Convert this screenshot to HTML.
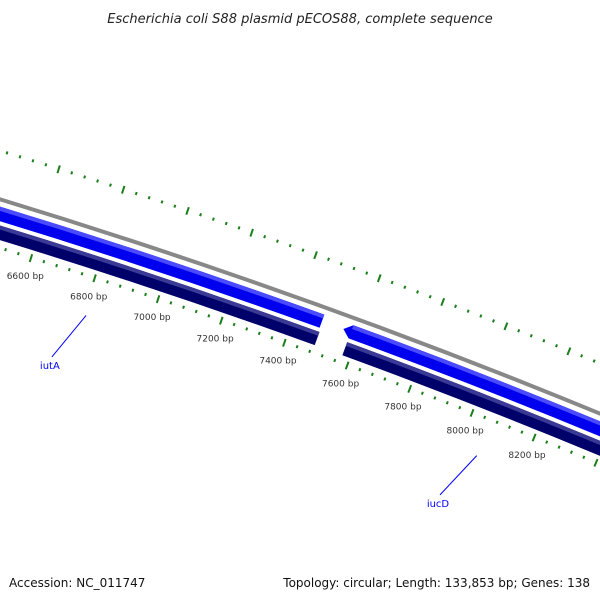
<!DOCTYPE html>
<html><head><meta charset="utf-8"><style>
html,body{margin:0;padding:0;background:#fff;}
svg{display:block;font-family:"DejaVu Sans","Liberation Sans",sans-serif;}
</style></head><body>
<svg id="map" width="600" height="600" viewBox="0 0 600 600" xmlns="http://www.w3.org/2000/svg">
<rect width="600" height="600" fill="#fff"/>
<text x="300" y="23" text-anchor="middle" font-size="13" font-style="italic" fill="#222">Escherichia coli S88 plasmid pECOS88, complete sequence</text>
<g id="ticks"></g>
<g id="rings"></g>
<g id="genes"></g>
<g id="labels"></g>
<text x="9" y="587" font-size="12" fill="#111">Accession: NC_011747</text>
<text x="590" y="587" text-anchor="end" font-size="12" fill="#111">Topology: circular; Length: 133,853 bp; Genes: 138</text>
</svg>
<script>
const tickLabelsBp = [6600, 6800, 7000, 7200, 7400, 7600, 7800, 8000, 8200];
const geneNames = ["iutA", "gene-blue-2", "gene-purple", "iucD"];
const geneStart = [6000, 7576, 6000, 7576];
const geneEnd = [7484, 9000, 7488, 9000];
const geneStrand = [1, 1, -1, -1];
const geneLabels = [{name:"iutA", bp:6810}, {name:"iucD", bp:8060}];

const NS = "http://www.w3.org/2000/svg";
const CX = -1951, CY = 6609;
const A0 = -1.2683, K = 5.02e-5;
function ang(bp){ return A0 + (bp - 6600) * K; }
function pt(bp, r){ const a = ang(bp); return [CX + r*Math.cos(a), CY + r*Math.sin(a)]; }
function mk(tag, attrs, parent){ const e = document.createElementNS(NS, tag); for (const k in attrs) e.setAttribute(k, attrs[k]); parent.appendChild(e); return e; }
function arcPath(b0, b1, r){ const p0 = pt(b0, r), p1 = pt(b1, r); return `M${p0[0]},${p0[1]} A${r},${r} 0 0 1 ${p1[0]},${p1[1]}`; }
function band(b0, b1, r0, r1, tip){
  const a = pt(b0, r1), b = pt(b1, r1), c = pt(b1, r0), d = pt(b0, r0);
  let s = `M${a[0]},${a[1]} A${r1},${r1} 0 0 1 ${b[0]},${b[1]} L${c[0]},${c[1]} A${r0},${r0} 0 0 0 ${d[0]},${d[1]}`;
  if (tip) { const m = pt(b0 - 24, (r0 + r1) / 2); s += ` L${m[0]},${m[1]}`; }
  return s + " Z";
}

// ticks
const tg = document.getElementById("ticks");
for (let bp = 5000; bp <= 9400; bp += 40) {
  const major = (bp % 200 === 0);
  const o0 = pt(bp, major ? 6742 : 6745), o1 = pt(bp, major ? 6750 : 6748);
  const t1 = mk("line", {x1:o0[0], y1:o0[1], x2:o1[0], y2:o1[1], stroke:"#1a7f1a", "stroke-width":2}, tg);
  
  
  const i0 = pt(bp, major ? 6649 : 6652), i1 = pt(bp, major ? 6657 : 6655);
  const t2 = mk("line", {x1:i0[0], y1:i0[1], x2:i1[0], y2:i1[1], stroke:"#1a7f1a", "stroke-width":2}, tg);
  
  
}
// backbone
const rg = document.getElementById("rings");
const bb = mk("path", {d: arcPath(5000, 9400, 6700), fill:"none", stroke:"#888", "stroke-width":4}, rg);



// genes
const gg = document.getElementById("genes");
const palette = {
  "1a": ["#0000ee", "#4a4aff"], "1b": ["#0000ee", "#4a4aff"],
  "-1a": ["#4a3f8f", "#7a72b4"], "-1b": ["#00006a", "#3a3a96"]
};
geneNames.forEach((n, i) => {
  const fwd = geneStrand[i] === 1;
  const r0 = fwd ? 6679 : 6661, r1 = fwd ? 6693 : 6675;
  const key = geneStrand[i] + (i < 2 ? "a" : "b") ;
  const col = palette[key] || palette[geneStrand[i] + "a"];
  const tip = (i === 1);
  const main = mk("path", {d: band(geneStart[i], geneEnd[i], r0, r1, tip), fill: col[0]}, gg);
  
  
  const hl = mk("path", {d: band(geneStart[i], geneEnd[i], r1 - 4, r1, false), fill: col[1]}, gg);
  
  
});

// tick labels
const lg = document.getElementById("labels");
tickLabelsBp.forEach(bp => {
  const p = pt(bp, 6634);
  const t = mk("text", {x:p[0], y:p[1] + 3, "text-anchor":"middle", "font-size":9, fill:"#333"}, lg);
  t.textContent = bp + " bp";
  
  
});
// gene labels
geneLabels.forEach(g => {
  const p0 = pt(g.bp, 6615), p1 = pt(g.bp - 60, 6565);
  const ln = mk("line", {x1:p0[0], y1:p0[1], x2:p1[0], y2:p1[1], stroke:"#0000ff", "stroke-width":1}, lg);
  
  
  const t = mk("text", {x:p1[0] - 2, y:p1[1] + 12, "text-anchor":"middle", "font-size":10, fill:"#0000ff"}, lg);
  t.textContent = g.name;
  
  
});
</script>
</body></html>
